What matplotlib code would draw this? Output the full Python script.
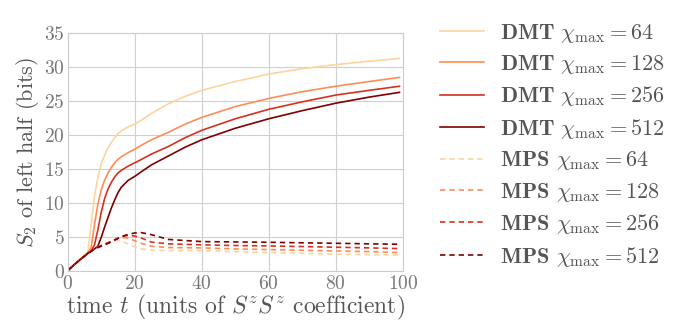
import matplotlib
matplotlib.use("Agg")
import matplotlib.pyplot as plt

plt.rcParams.update({
    "font.family": "serif",
    "font.serif": ["cmr10"],
    "mathtext.fontset": "cm",
    "axes.unicode_minus": False,
    "axes.formatter.use_mathtext": True,
})

t_dmt = [0, 2, 4, 5, 6, 7, 8, 9, 10, 11, 12, 13, 14, 15, 16, 18, 20, 22, 25, 30, 35, 40, 50, 60, 70, 80, 90, 99]
dmt_64 = [0, 0.9, 1.75, 2.15, 2.8, 6.8, 11.0, 13.7, 15.8, 17.0, 18.1, 18.9, 19.6, 20.2, 20.6, 21.2, 21.6, 22.2, 23.2, 24.6, 25.7, 26.6, 27.9, 29.0, 29.8, 30.4, 30.9, 31.3]
dmt_128 = [0, 0.9, 1.75, 2.15, 2.55, 3.4, 6.8, 9.8, 11.9, 13.3, 14.4, 15.2, 15.9, 16.4, 16.8, 17.4, 17.9, 18.5, 19.3, 20.4, 21.6, 22.6, 24.2, 25.4, 26.4, 27.2, 27.9, 28.5]
dmt_256 = [0, 0.9, 1.75, 2.15, 2.55, 2.9, 3.8, 6.0, 8.6, 10.6, 12.0, 13.0, 13.8, 14.4, 14.8, 15.4, 15.9, 16.4, 17.2, 18.3, 19.6, 20.7, 22.4, 23.8, 24.9, 25.9, 26.6, 27.2]
dmt_512 = [0, 0.9, 1.75, 2.15, 2.55, 2.9, 3.2, 3.6, 4.9, 6.4, 7.8, 9.2, 10.4, 11.5, 12.3, 13.3, 13.9, 14.6, 15.6, 16.9, 18.2, 19.3, 21.0, 22.4, 23.6, 24.7, 25.6, 26.3]

t_mps = [0, 2, 4, 6, 8, 10, 12, 14, 16, 18, 20, 22, 25, 30, 40, 50, 60, 70, 80, 90, 99]
mps_64 = [0, 0.9, 1.75, 2.5, 3.2, 3.7, 4.1, 4.45, 4.35, 3.95, 3.5, 3.2, 3.0, 2.95, 2.95, 2.8, 2.65, 2.55, 2.42, 2.35, 2.3]
mps_128 = [0, 0.9, 1.75, 2.5, 3.2, 3.7, 4.1, 4.55, 4.9, 4.8, 4.4, 4.0, 3.6, 3.4, 3.35, 3.2, 3.1, 3.0, 2.9, 2.8, 2.66]
mps_256 = [0, 0.9, 1.75, 2.5, 3.2, 3.7, 4.1, 4.55, 5.0, 5.2, 5.1, 4.8, 4.2, 3.95, 3.8, 3.7, 3.64, 3.55, 3.45, 3.35, 3.25]
mps_512 = [0, 0.9, 1.75, 2.5, 3.2, 3.6, 4.0, 4.5, 5.0, 5.35, 5.55, 5.6, 5.3, 4.6, 4.28, 4.23, 4.18, 4.1, 4.03, 3.95, 3.89]

chis = ["64", "128", "256", "512"]
colors = ["#fdd49e", "#fc8d59", "#d7301f", "#7f0000"]
dmt_series = [dmt_64, dmt_128, dmt_256, dmt_512]
mps_series = [mps_64, mps_128, mps_256, mps_512]

xticks = [0, 20, 40, 60, 80, 100]
yticks = [0, 5, 10, 15, 20, 25, 30, 35]

fig = plt.figure(figsize=(6.77, 3.21), dpi=100)
ax = fig.add_axes([0.1, 0.157, 0.495, 0.739])

for c, y, col in zip(chis, dmt_series, colors):
    ax.plot(t_dmt, y, color=col, lw=1.2, label=r"$\mathbf{DMT}$ $\chi_{\mathrm{max}} = %s$" % c)
for c, y, col in zip(chis, mps_series, colors):
    ax.plot(t_mps, y, color=col, lw=1.2, ls=(0, (3.2, 2.4)), label=r"$\mathbf{MPS}$ $\chi_{\mathrm{max}} = %s$" % c)

ax.set_xlim(0, 100)
ax.set_ylim(0, 35)
ax.set_xticks(xticks)
ax.set_yticks(yticks)
ax.grid(True, color="#d0d0d0", lw=0.8)
ax.set_axisbelow(True)
for s in ax.spines.values():
    s.set_color("#cccccc")
    s.set_linewidth(0.8)
ax.tick_params(length=0, labelsize=14, labelcolor="#777777", pad=2)
ax.tick_params(axis="x", pad=3)
ax.set_xlabel(r"time $t$ (units of $S^zS^z$ coefficient)", fontsize=17, color="#555555", labelpad=0)
ax.set_ylabel(r"$S_2$ of left half (bits)", fontsize=16, color="#555555", labelpad=2)

leg = fig.legend(loc="upper left", bbox_to_anchor=(0.62, 0.995), frameon=False,
                 fontsize=16, handlelength=2.0, labelspacing=0.38, handletextpad=0.7)
for txt in leg.get_texts():
    txt.set_color("#555555")

fig.savefig("out.png", dpi=100)
